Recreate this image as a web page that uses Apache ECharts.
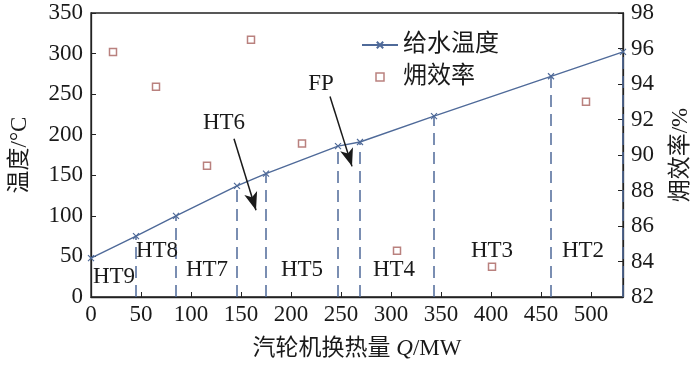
<!DOCTYPE html>
<html><head><meta charset="utf-8">
<script src="https://cdn.jsdelivr.net/npm/echarts@6/dist/echarts.min.js"></script>
<style>html,body{margin:0;padding:0;background:#fff}#c{width:700px;height:366px}</style>
</head><body><div id="c"></div>
<script>
// Feed-water temperature (°C) vs turbine heat Q (MW)
const tempQ = [0, 45, 85, 146, 175, 247, 269, 343, 460, 532];
const tempVal = [48, 75, 100, 137, 152, 186, 191, 223, 272, 302];
// Exergy efficiency (%)
const effQ = [22, 65, 116, 160, 211, 306, 401, 495];
const effVal = [95.8, 93.85, 89.4, 96.5, 90.65, 84.6, 83.7, 93.0];
// Stage labels
const stageNames = ['HT9', 'HT8', 'HT7', 'HT6', 'HT5', 'FP', 'HT4', 'HT3', 'HT2'];
const stageX = [23, 66, 116, 133, 211, 230, 303, 401, 492];
const stageY = [25, 57, 33, 214, 33, 262, 33, 57, 57];
// Arrows [fromX, fromY, toX, toY]
const arrowFromX = [143, 239];
const arrowFromY = [195, 247];
const arrowToX = [165, 261];
const arrowToY = [107, 161];
const xTicks = {min: 0, max: 532, interval: 50};
const yLeft = {min: 0, max: 350, interval: 50};
const yRight = {min: 82, max: 98, interval: 2};

const FONT = "'Liberation Serif','Noto Sans CJK SC',serif";
const TXT = '#1a1a1a';
const BLUE = '#4f6a99';
const RED = '#a8625e';

const chart = echarts.init(document.getElementById('c'), null, {renderer: 'canvas'});
const xSym = 'path://M0,0L10,10M10,0L0,10';

const axisCommon = {
  axisLine: {show: true, lineStyle: {color: '#222', width: 1.3}},
  axisTick: {show: true, inside: true, length: 5, lineStyle: {color: '#222'}},
  splitLine: {show: false},
  axisLabel: {color: TXT, fontFamily: FONT, fontSize: 23},
  nameTextStyle: {color: TXT, fontFamily: FONT, fontSize: 23}
};

chart.setOption({
  animation: false,
  textStyle: {fontFamily: FONT},
  grid: {left: 86, right: 74, top: 13, bottom: 69, show: true, borderColor: '#222', borderWidth: 1.3, containLabel: false},
  legend: {
    orient: 'vertical', left: 356, top: 28, itemGap: 8, itemWidth: 36, itemHeight: 8,
    textStyle: {color: TXT, fontFamily: FONT, fontSize: 24},
    data: [
      {name: '给水温度'},
      {name: '㶲效率', icon: 'path://M0,0H10V10H0Z', itemStyle: {color: '#fff', borderColor: RED, borderWidth: 1.5}}
    ]
  },
  xAxis: Object.assign({}, axisCommon, {
    type: 'value', min: xTicks.min, max: xTicks.max, interval: xTicks.interval,
    name: '汽轮机换热量 {i|Q}/MW', nameLocation: 'middle', nameGap: 40,
    nameTextStyle: {color: TXT, fontFamily: FONT, fontSize: 23,
      rich: {i: {fontStyle: 'italic', fontFamily: FONT, fontSize: 23, color: TXT}}},
    axisLabel: {color: TXT, fontFamily: FONT, fontSize: 23, margin: 6, showMaxLabel: false}
  }),
  yAxis: [
    Object.assign({}, axisCommon, {
      type: 'value', min: yLeft.min, max: yLeft.max, interval: yLeft.interval,
      name: '温度/°C', nameLocation: 'middle', nameGap: 60, nameRotate: 90,
      axisLabel: {color: TXT, fontFamily: FONT, fontSize: 23, margin: 8}
    }),
    Object.assign({}, axisCommon, {
      type: 'value', position: 'right', min: yRight.min, max: yRight.max, interval: yRight.interval,
      name: '㶲效率/%', nameLocation: 'middle', nameGap: 46, nameRotate: 90,
      axisLabel: {color: TXT, fontFamily: FONT, fontSize: 23, margin: 8}
    })
  ],
  series: [
    {
      name: '给水温度', type: 'line', yAxisIndex: 0,
      data: tempQ.map((q, i) => [q, tempVal[i]]),
      symbol: xSym, symbolSize: 6, showSymbol: true,
      lineStyle: {color: BLUE, width: 1.4},
      itemStyle: {color: BLUE, borderColor: BLUE, borderWidth: 1.2},
      markLine: {
        silent: true, symbol: ['none', 'none'], label: {show: false},
        lineStyle: {color: BLUE, type: [12, 7], width: 1.5},
        data: tempQ.filter(q => q > 0).map(q => {
          const i = tempQ.indexOf(q);
          return [{coord: [q, 0]}, {coord: [q, tempVal[i]]}];
        })
      },
      z: 3
    },
    {
      name: '㶲效率', type: 'scatter', yAxisIndex: 1,
      data: effQ.map((q, i) => [q, effVal[i]]),
      symbol: 'rect', symbolSize: 7,
      itemStyle: {color: '#fff', borderColor: RED, borderWidth: 1.5},
      z: 4
    },
    {
      name: 'labels', type: 'scatter', yAxisIndex: 0,
      data: stageNames.map((n, i) => ({name: n, value: [stageX[i], stageY[i]]})),
      symbolSize: 1, silent: true,
      itemStyle: {color: 'rgba(0,0,0,0)', opacity: 0},
      label: {show: true, position: 'inside', formatter: p => p.name, opacity: 1,
        color: TXT, fontFamily: FONT, fontSize: 23, textBorderWidth: 0},
      emphasis: {disabled: true},
      markLine: {
        silent: true, symbol: ['none', 'arrow'], symbolSize: [10, 18], label: {show: false},
        lineStyle: {color: '#1a1a1a', type: 'solid', width: 1.5, opacity: 1},
        data: arrowFromX.map((x, i) => [{coord: [x, arrowFromY[i]]}, {coord: [arrowToX[i], arrowToY[i]]}])
      },
      z: 5
    }
  ]
});
</script></body></html>
